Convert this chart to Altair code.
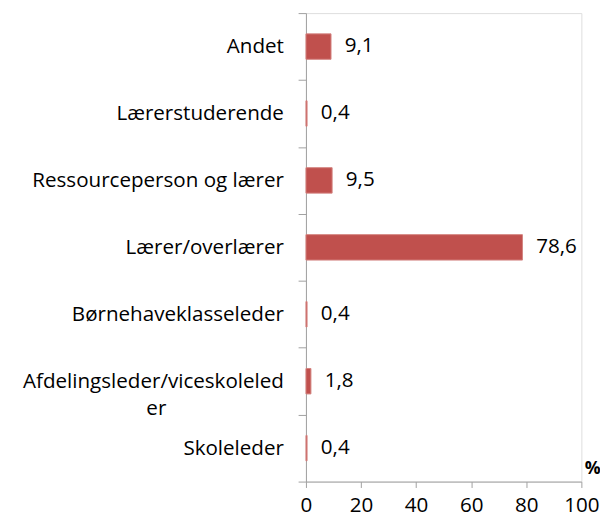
import altair as alt
import pandas as pd

categories = ["Andet", "Lærerstuderende", "Ressourceperson og lærer", "Lærer/overlærer",
              "Børnehaveklasseleder", "Afdelingsleder/viceskoleleder", "Skoleleder"]
values = [9.1, 0.4, 9.5, 78.6, 0.4, 1.8, 0.4]
x_ticks = [0, 20, 40, 60, 80, 100]

df = pd.DataFrame({"kategori": categories, "pct": values})
df["label"] = [f"{v:.1f}".replace(".", ",") for v in values]

FONT = "Open Sans"
FS = 21
AXIS_COLOR = "#a0a0a0"
pad = "\u00a0" * 22 + "\u200b"

label_expr = (
    "datum.value == 'Afdelingsleder/viceskoleleder' ? "
    f"['Afdelingsleder/viceskoleled', 'er{pad}'] : datum.value"
)

y_enc = alt.Y(
    "kategori:N",
    sort=categories,
    scale=alt.Scale(paddingInner=0, paddingOuter=0),
    axis=alt.Axis(
        title=None,
        tickBand="extent",
        tickSize=8,
        tickColor=AXIS_COLOR,
        domainColor=AXIS_COLOR,
        labelPadding=15,
        labelLimit=400,
        labelFont=FONT,
        labelFontSize=FS,
        labelColor="#000000",
        labelLineHeight=28,
        labelExpr=label_expr,
    ),
)

x_enc = alt.X(
    "pct:Q",
    scale=alt.Scale(domain=[0, 100], nice=False),
    axis=alt.Axis(
        values=x_ticks,
        grid=False,
        tickSize=6,
        tickColor=AXIS_COLOR,
        domainColor=AXIS_COLOR,
        labelPadding=8,
        labelFont=FONT,
        labelFontSize=FS,
        labelColor="#000000",
        labelFlush=False,
        title="%",
        titleFont=FONT,
        titleFontSize=18,
        titleFontWeight="bold",
        titleColor="#000000",
        titleAnchor="end",
        titleAngle=0,
        titleX=292,
        titleY=-4,
        titleAlign="center",
        titleBaseline="bottom",
    ),
)

bars = alt.Chart(df).mark_bar(
    height=alt.RelativeBandSize(0.38),
    color="#C0504D",
    stroke="#d3827f",
    strokeWidth=1,
).encode(x=x_enc, y=y_enc)

texts = alt.Chart(df).mark_text(
    align="left", baseline="middle", dx=14, font=FONT, fontSize=FS, color="#000000"
).encode(x="pct:Q", y=alt.Y("kategori:N", sort=categories), text="label:N")

chart = (
    alt.layer(bars, texts)
    .properties(
        width=281,
        height=478,
        autosize=alt.AutoSizeParams(type="none"),
        padding={"left": 304, "top": 0, "right": 19, "bottom": 35},
    )
    .configure_view(stroke=None)
    .configure(background="white")
)

chart.save("out.html", embed_options={"renderer": "svg", "actions": False})
